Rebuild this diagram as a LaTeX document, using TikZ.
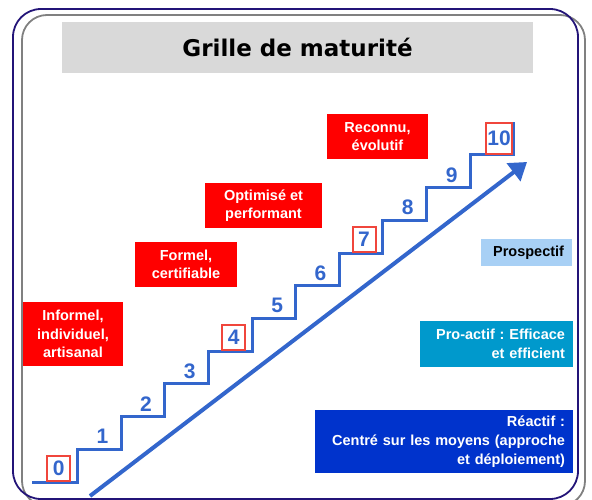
\documentclass[tikz,border=0pt]{standalone}
\usepackage{fontspec}
\setmainfont{Liberation Sans}
\newfontfamily\titlefont{DejaVu Sans}
\usetikzlibrary{arrows.meta}
\frenchspacing

\definecolor{marine}{RGB}{35,20,120}
\definecolor{grisbord}{RGB}{128,128,128}
\definecolor{gristitre}{RGB}{217,217,217}
\definecolor{bleumarche}{RGB}{51,102,204}
\definecolor{rougecadre}{RGB}{240,70,60}
\definecolor{bleuclair}{RGB}{168,208,245}
\definecolor{turquoise}{RGB}{0,153,204}
\definecolor{bleufonce}{RGB}{0,51,204}

\begin{document}
\begin{tikzpicture}[
	x=1pt, y=-1pt,
	titre/.style={
		fill=gristitre,
		minimum width=471pt,
		minimum height=51pt,
		font={\titlefont\bfseries\fontsize{23}{28}\selectfont}
	},
	rouge/.style={
		fill=red,
		text=white,
		align=center,
		inner sep=0pt,
		font={\bfseries\fontsize{14.5}{18.5}\selectfont}
	},
	bleu/.style={
		align=right,
		inner xsep=8pt,
		inner ysep=0pt,
		font={\bfseries\fontsize{14.5}{19}\selectfont}
	},
	niveau/.style={
		text=bleumarche,
		anchor=south,
		inner sep=0pt,
		minimum width=23pt,
		minimum height=25pt,
		font={\bfseries\fontsize{21}{21}\selectfont}
	},
	cadre/.style={
		niveau,
		draw=rougecadre,
		line width=2pt
	},
	marche/.style={
		draw=bleumarche,
		line width=3pt
	},
	fleche/.style={
		draw=bleumarche,
		line width=4pt,
		-{Triangle[length=17pt,width=22pt]}
	}
]
\useasboundingbox (0,0) rectangle (592,500);
\clip (0,0) rectangle (592,500);

% cadre double
\draw[grisbord, line width=1.8pt, rounded corners=25pt] (22,15) rectangle (585,506);
\draw[marine, line width=1.8pt, rounded corners=28pt] (13,9) rectangle (578,499);

\node[titre] (TITRE) at (297.5,47.5) {Grille de maturité};

% les marches
\path[marche] (32,482) -| (77.6,449.3) -| (121.2,416.6) -| (164.8,383.9)
	-| (208.4,351.2) -| (252,318.5) -| (295.6,285.8) -| (339.2,253.1)
	-| (382.8,220.4) -| (426.4,187.7) -| (470,155) -| (513.6,122.3);

\node[cadre]  (N0)  at (58.8,482)   {0};
\node[niveau] (N1)  at (102.4,449.3) {1};
\node[niveau] (N2)  at (146,416.6)   {2};
\node[niveau] (N3)  at (189.6,383.9) {3};
\node[cadre]  (N4)  at (233.6,351.2) {4};
\node[niveau] (N5)  at (277.2,318.5) {5};
\node[niveau] (N6)  at (320.4,285.8) {6};
\node[cadre]  (N7)  at (364,253.1)   {7};
\node[niveau] (N8)  at (407.6,220.4) {8};
\node[niveau] (N9)  at (451.6,187.7) {9};
\node[cadre, minimum width=26pt, minimum height=31pt] (N10) at (499,155) {10};

\coordinate (DEPART) at (90,496);
\coordinate (BUT) at (527,162);
\draw[fleche] (DEPART) -- (BUT);

% etiquettes rouges
\node[rouge, minimum width=100pt, minimum height=64pt] (INFORMEL) at (73,334)
{Informel,\\individuel,\\artisanal};
\node[rouge, minimum width=102pt, minimum height=45pt] (FORMEL) at (186,264.5)
{Formel,\\certifiable};
\node[rouge, minimum width=117pt, minimum height=45pt] (OPTIMISE) at (263.5,205.5)
{Optimisé et\\performant};
\node[rouge, minimum width=101pt, minimum height=45pt] (RECONNU) at (377.5,136.5)
{Reconnu,\\évolutif};

% attitudes
\node[bleu, fill=bleuclair, text=black, text width=75pt, minimum height=27pt]
	(PROSPECTIF) at (526.5,252.5) {Prospectif};
\node[bleu, fill=turquoise, text=white, text width=137pt, minimum height=46pt]
	(PROACTIF) at (496.5,344) {Pro-actif : Efficace\\et efficient};
\node[bleu, fill=bleufonce, text=white, text width=242pt, minimum height=63pt]
	(REACTIF) at (444,441.5) {Réactif :\\Centré sur les moyens (approche\\et déploiement)};

\end{tikzpicture}
\end{document}
